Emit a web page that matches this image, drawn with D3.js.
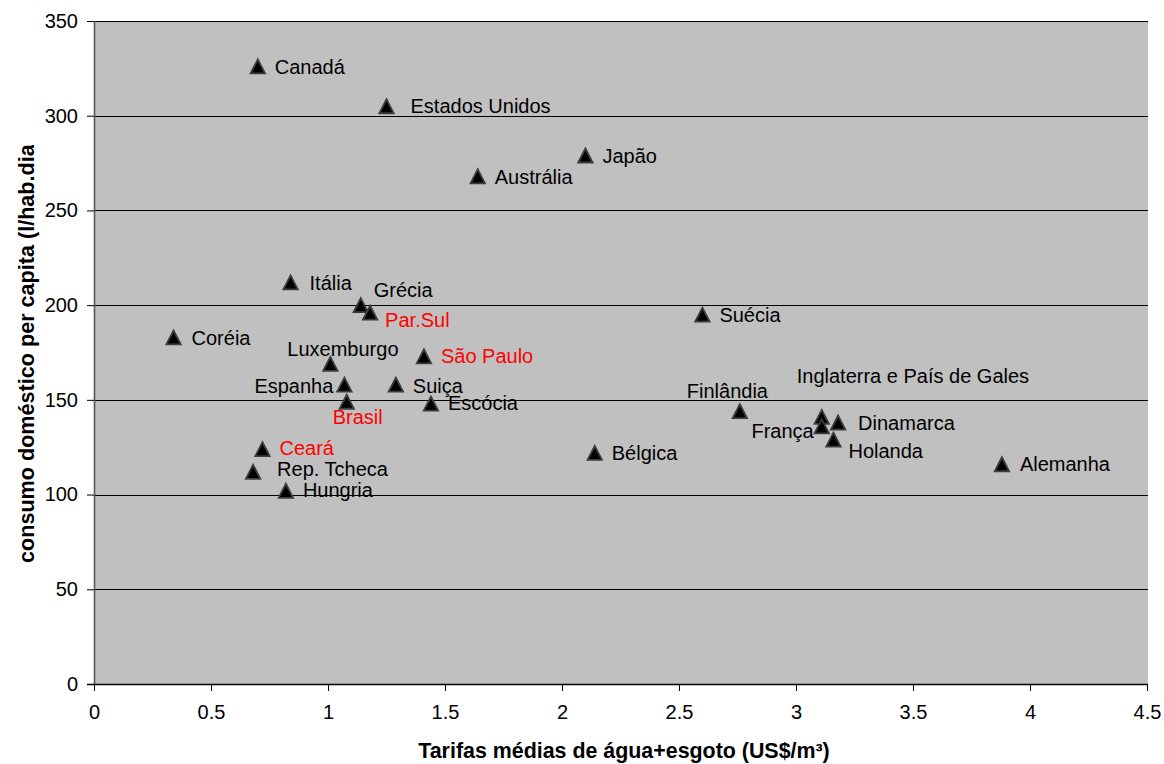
<!DOCTYPE html>
<html>
<head>
<meta charset="utf-8">
<script src="https://cdn.jsdelivr.net/npm/d3@7"></script>
<style>
  html, body { margin: 0; padding: 0; background: #ffffff; }
  svg { display: block; font-family: "Liberation Sans", Arial, sans-serif; }
</style>
</head>
<body>
<svg id="chart" width="1164" height="764"></svg>
<script>
// Tarifa média (US$/m³) e consumo doméstico (l/hab.dia) por país/região
const places = ["Canadá", "Estados Unidos", "Japão", "Austrália", "Itália", "Grécia",
  "Par.Sul", "Coréia", "Luxemburgo", "São Paulo", "Suécia", "Espanha", "Suiça",
  "Brasil", "Escócia", "Finlândia", "Inglaterra e País de Gales", "França",
  "Dinamarca", "Holanda", "Alemanha", "Bélgica", "Ceará", "Rep. Tcheca", "Hungria"];
const tariffs = [0.70, 1.25, 2.10, 1.64, 0.84, 1.14, 1.18, 0.34, 1.01, 1.41, 2.60, 1.07, 1.29,
  1.08, 1.44, 2.76, 3.11, 3.11, 3.18, 3.16, 3.88, 2.14, 0.72, 0.68, 0.82];
const consumption = [326, 305, 279, 268, 212, 200, 196, 183, 169, 173, 195, 158, 158,
  149, 148, 144, 141, 136, 138, 129, 116, 122, 124, 112, 102];
// Brazilian entries are highlighted
const highlighted = ["Par.Sul", "São Paulo", "Brasil", "Ceará"];

const xTicks = [0, 0.5, 1, 1.5, 2, 2.5, 3, 3.5, 4, 4.5];
const yTicks = [0, 50, 100, 150, 200, 250, 300, 350];

// Label placement relative to each marker: [dx, dy, anchor]
const labelOffsets = {
  "Canadá": [17, 0, "start"],
  "Estados Unidos": [24, 0, "start"],
  "Japão": [17, 0, "start"],
  "Austrália": [17, 0, "start"],
  "Itália": [19, 0, "start"],
  "Grécia": [13, -15, "start"],
  "Par.Sul": [15, 7, "start"],
  "Coréia": [18, 0, "start"],
  "Luxemburgo": [-43, -15, "start"],
  "São Paulo": [17, 0, "start"],
  "Suécia": [17, 0, "start"],
  "Espanha": [-11, 1, "end"],
  "Suiça": [17, 1, "start"],
  "Brasil": [-14, 15, "start"],
  "Escócia": [17, -1, "start"],
  "Finlândia": [-53, -20, "start"],
  "Inglaterra e País de Gales": [-25, -41, "start"],
  "França": [-8, 4, "end"],
  "Dinamarca": [20, 0, "start"],
  "Holanda": [15, 11, "start"],
  "Alemanha": [18, 0, "start"],
  "Bélgica": [17, 0, "start"],
  "Ceará": [17, -1, "start"],
  "Rep. Tcheca": [24, -3, "start"],
  "Hungria": [17, -1, "start"]
};

const plot = { left: 94, right: 1147, top: 21, bottom: 684 };
const svg = d3.select("#chart");

const x = d3.scaleLinear().domain([0, 4.5]).range([plot.left, plot.right]);
const y = d3.scaleLinear().domain([0, 350]).range([plot.bottom, plot.top]);

// Plot background
svg.append("rect")
  .attr("x", plot.left).attr("y", plot.top)
  .attr("width", plot.right - plot.left + 1).attr("height", plot.bottom - plot.top)
  .attr("fill", "#c0c0c0");

// Horizontal gridlines
svg.append("g")
  .selectAll("line")
  .data(yTicks.filter(d => d > 0))
  .join("line")
  .attr("x1", plot.left).attr("x2", plot.right + 1)
  .attr("y1", d => Math.round(y(d)) + 0.5).attr("y2", d => Math.round(y(d)) + 0.5)
  .attr("stroke", "#000").attr("stroke-width", 1);

// Y axis
const yAxis = svg.append("g")
  .attr("transform", `translate(${plot.left},0)`)
  .call(d3.axisLeft(y).tickValues(yTicks).tickSize(7).tickPadding(9).tickFormat(d3.format("d")));
yAxis.select(".domain").attr("stroke", "#555").attr("stroke-width", 1.6)
  .attr("d", `M0.5,${plot.top}V${plot.bottom}`);
yAxis.selectAll(".tick line").attr("stroke", "#000");
yAxis.selectAll(".tick text").attr("font-size", 20).attr("fill", "#000")
  .attr("font-family", "'Liberation Sans', Arial, sans-serif");

// X axis
const xAxis = svg.append("g")
  .attr("transform", `translate(0,${plot.bottom})`)
  .call(d3.axisBottom(x).tickValues(xTicks).tickSize(7).tickPadding(14).tickFormat(d => String(d)));
xAxis.select(".domain").attr("stroke", "#000").attr("stroke-width", 1.3)
  .attr("d", `M${plot.left - 7},0.5H${plot.right + 1}`);
xAxis.selectAll(".tick line").attr("stroke", "#000");
xAxis.selectAll(".tick text").attr("font-size", 20).attr("fill", "#000")
  .attr("font-family", "'Liberation Sans', Arial, sans-serif");

// Axis titles
svg.append("text")
  .attr("x", 624).attr("y", 758)
  .attr("text-anchor", "middle")
  .attr("font-size", 21.4).attr("font-weight", "bold")
  .text("Tarifas médias de água+esgoto (US$/m³)");

// The vertical title box is cut off just above "dia"
svg.append("clipPath").attr("id", "ytitle-clip")
  .append("rect").attr("x", 0).attr("y", 145).attr("width", 60).attr("height", 500);

svg.append("g")
  .attr("clip-path", "url(#ytitle-clip)")
  .append("text")
  .attr("transform", "translate(34,563) rotate(-90)")
  .attr("text-anchor", "start")
  .attr("font-size", 21.6).attr("font-weight", "bold")
  .text("consumo doméstico per capita (l/hab.dia)");

// Data
const rows = places.map((p, i) => ({ name: p, t: tariffs[i], c: consumption[i] }));

// Triangle markers
const tri = "M0,-7L7.2,7L-7.2,7Z";
svg.append("g")
  .selectAll("path")
  .data(rows)
  .join("path")
  .attr("transform", d => `translate(${x(d.t)},${y(d.c)})`)
  .attr("d", tri)
  .attr("fill", "#000")
  .attr("stroke", "#3c3c3c")
  .attr("stroke-width", 1.8)
  .attr("stroke-linejoin", "miter");

// Point labels
svg.append("g")
  .selectAll("text")
  .data(rows)
  .join("text")
  .attr("x", d => x(d.t) + labelOffsets[d.name][0])
  .attr("y", d => y(d.c) + labelOffsets[d.name][1])
  .attr("dy", "0.36em")
  .attr("text-anchor", d => labelOffsets[d.name][2])
  .attr("font-size", 20)
  .attr("fill", d => highlighted.includes(d.name) ? "#ff0000" : "#000")
  .text(d => d.name);
</script>
</body>
</html>
